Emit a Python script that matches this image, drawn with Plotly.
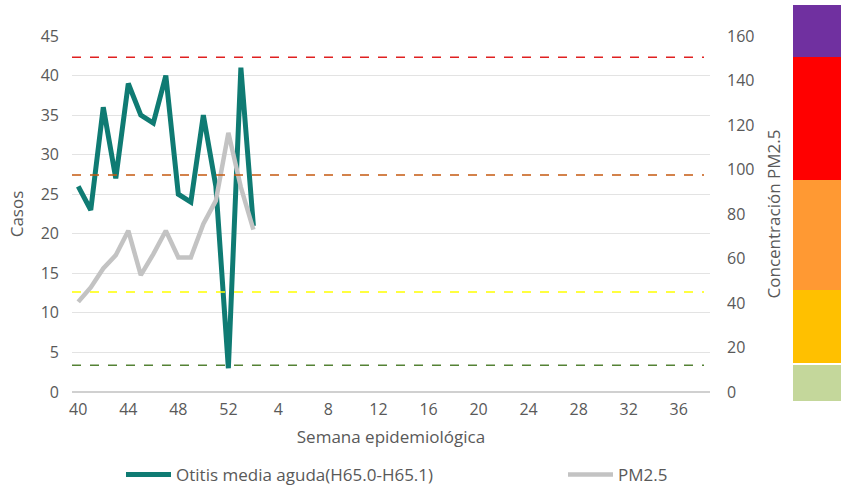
import plotly.graph_objects as go

weeks = [str(w) for w in list(range(40, 53)) + list(range(1, 39))]
tick_labels = ["40", "44", "48", "52", "4", "8", "12", "16", "20", "24", "28", "32", "36"]

otitis_weeks = [str(w) for w in list(range(40, 53)) + [1, 2]]
otitis = [26, 23, 36, 27, 39, 35, 34, 40, 25, 24, 35, 26, 3, 41, 21]
pm25 = [40.5, 47, 55.5, 61.5, 72.5, 52.5, 62, 72.5, 60.5, 60.5, 75.5, 86, 116.5, 92, 73]

thresholds = [12, 45, 97.5, 150.5]
threshold_colors = ["#548235", "#FFFF00", "#C55A11", "#E02020"]

W, H = 844, 487
L, R, T, B = 72, 134, 36, 95
pw, ph = W - L - R, H - T - B

def px_x(px):
    return (px - L) / pw

def px_y(py):
    return (H - B - py) / ph

font = "Open Sans"
grey = "#595959"

fig = go.Figure()
fig.add_trace(go.Scatter(
    x=otitis_weeks, y=otitis, mode="lines", name="Otitis media aguda(H65.0-H65.1)",
    line=dict(color="#0F7B73", width=5), legend="legend", showlegend=True))
fig.add_trace(go.Scatter(
    x=otitis_weeks, y=pm25, mode="lines", name="PM2.5", yaxis="y2",
    line=dict(color="#C3C3C3", width=4.5), legend="legend2", showlegend=True))

shapes = []
for v, c in zip(thresholds, threshold_colors):
    shapes.append(dict(type="line", xref="paper", yref="y2", x0=0, x1=px_x(704),
                       y0=v, y1=v, line=dict(color=c, width=1.5, dash="dash"), layer="above"))

# colour blocks at right (pixel rows)
blocks = [(5, 57, "#7030A0"), (57, 180, "#FF0000"), (180, 290, "#FF9933"),
          (290, 363, "#FFC000"), (365, 401, "#C4D79B")]
for y0, y1, c in blocks:
    shapes.append(dict(type="rect", xref="paper", yref="paper", x0=px_x(793), x1=px_x(841),
                       y0=px_y(y1), y1=px_y(y0), fillcolor=c, line=dict(width=0), layer="above"))

fig.update_layout(
    width=W, height=H, margin=dict(l=L, r=R, t=T, b=B, autoexpand=False),
    paper_bgcolor="white", plot_bgcolor="white",
    font=dict(family=font, color=grey, size=15),
    shapes=shapes, showlegend=True,
    xaxis=dict(type="category", categoryorder="array", categoryarray=weeks,
               range=[-0.5, len(weeks) - 0.5], tickmode="array", tickvals=tick_labels,
               ticktext=tick_labels, showgrid=False, showline=False, zeroline=False,
               tickfont=dict(size=16, color=grey), ticks="", ticklabelstandoff=6,
               automargin=False,
               title=dict(text="Semana epidemiológica", font=dict(size=17, color=grey), standoff=12)),
    yaxis=dict(range=[0, 45], dtick=5, showgrid=True, gridcolor="#E3E3E3", gridwidth=1,
               zeroline=True, zerolinecolor="#D0D0D0", zerolinewidth=1.5, showline=False,
               tickfont=dict(size=16, color=grey), ticklabelstandoff=12, automargin=False,
               title=dict(text="Casos", font=dict(size=17, color=grey), standoff=12)),
    yaxis2=dict(range=[0, 160], dtick=20, overlaying="y", side="right", showgrid=False,
                zeroline=False, showline=False, tickfont=dict(size=16, color=grey),
                ticklabelstandoff=16, automargin=False,
                title=dict(text="Concentración PM2.5", font=dict(size=17, color=grey), standoff=14)),
    legend=dict(orientation="h", x=px_x(121), y=px_y(475), xanchor="left", yanchor="middle",
                font=dict(size=17, color=grey), bgcolor="rgba(0,0,0,0)", itemwidth=45),
    legend2=dict(orientation="h", x=px_x(563), y=px_y(475), xanchor="left", yanchor="middle",
                 font=dict(size=17, color=grey), bgcolor="rgba(0,0,0,0)", itemwidth=45),
)

fig.write_html("out.html", config={"displayModeBar": False},
               post_script="document.body.style.margin='0';")
